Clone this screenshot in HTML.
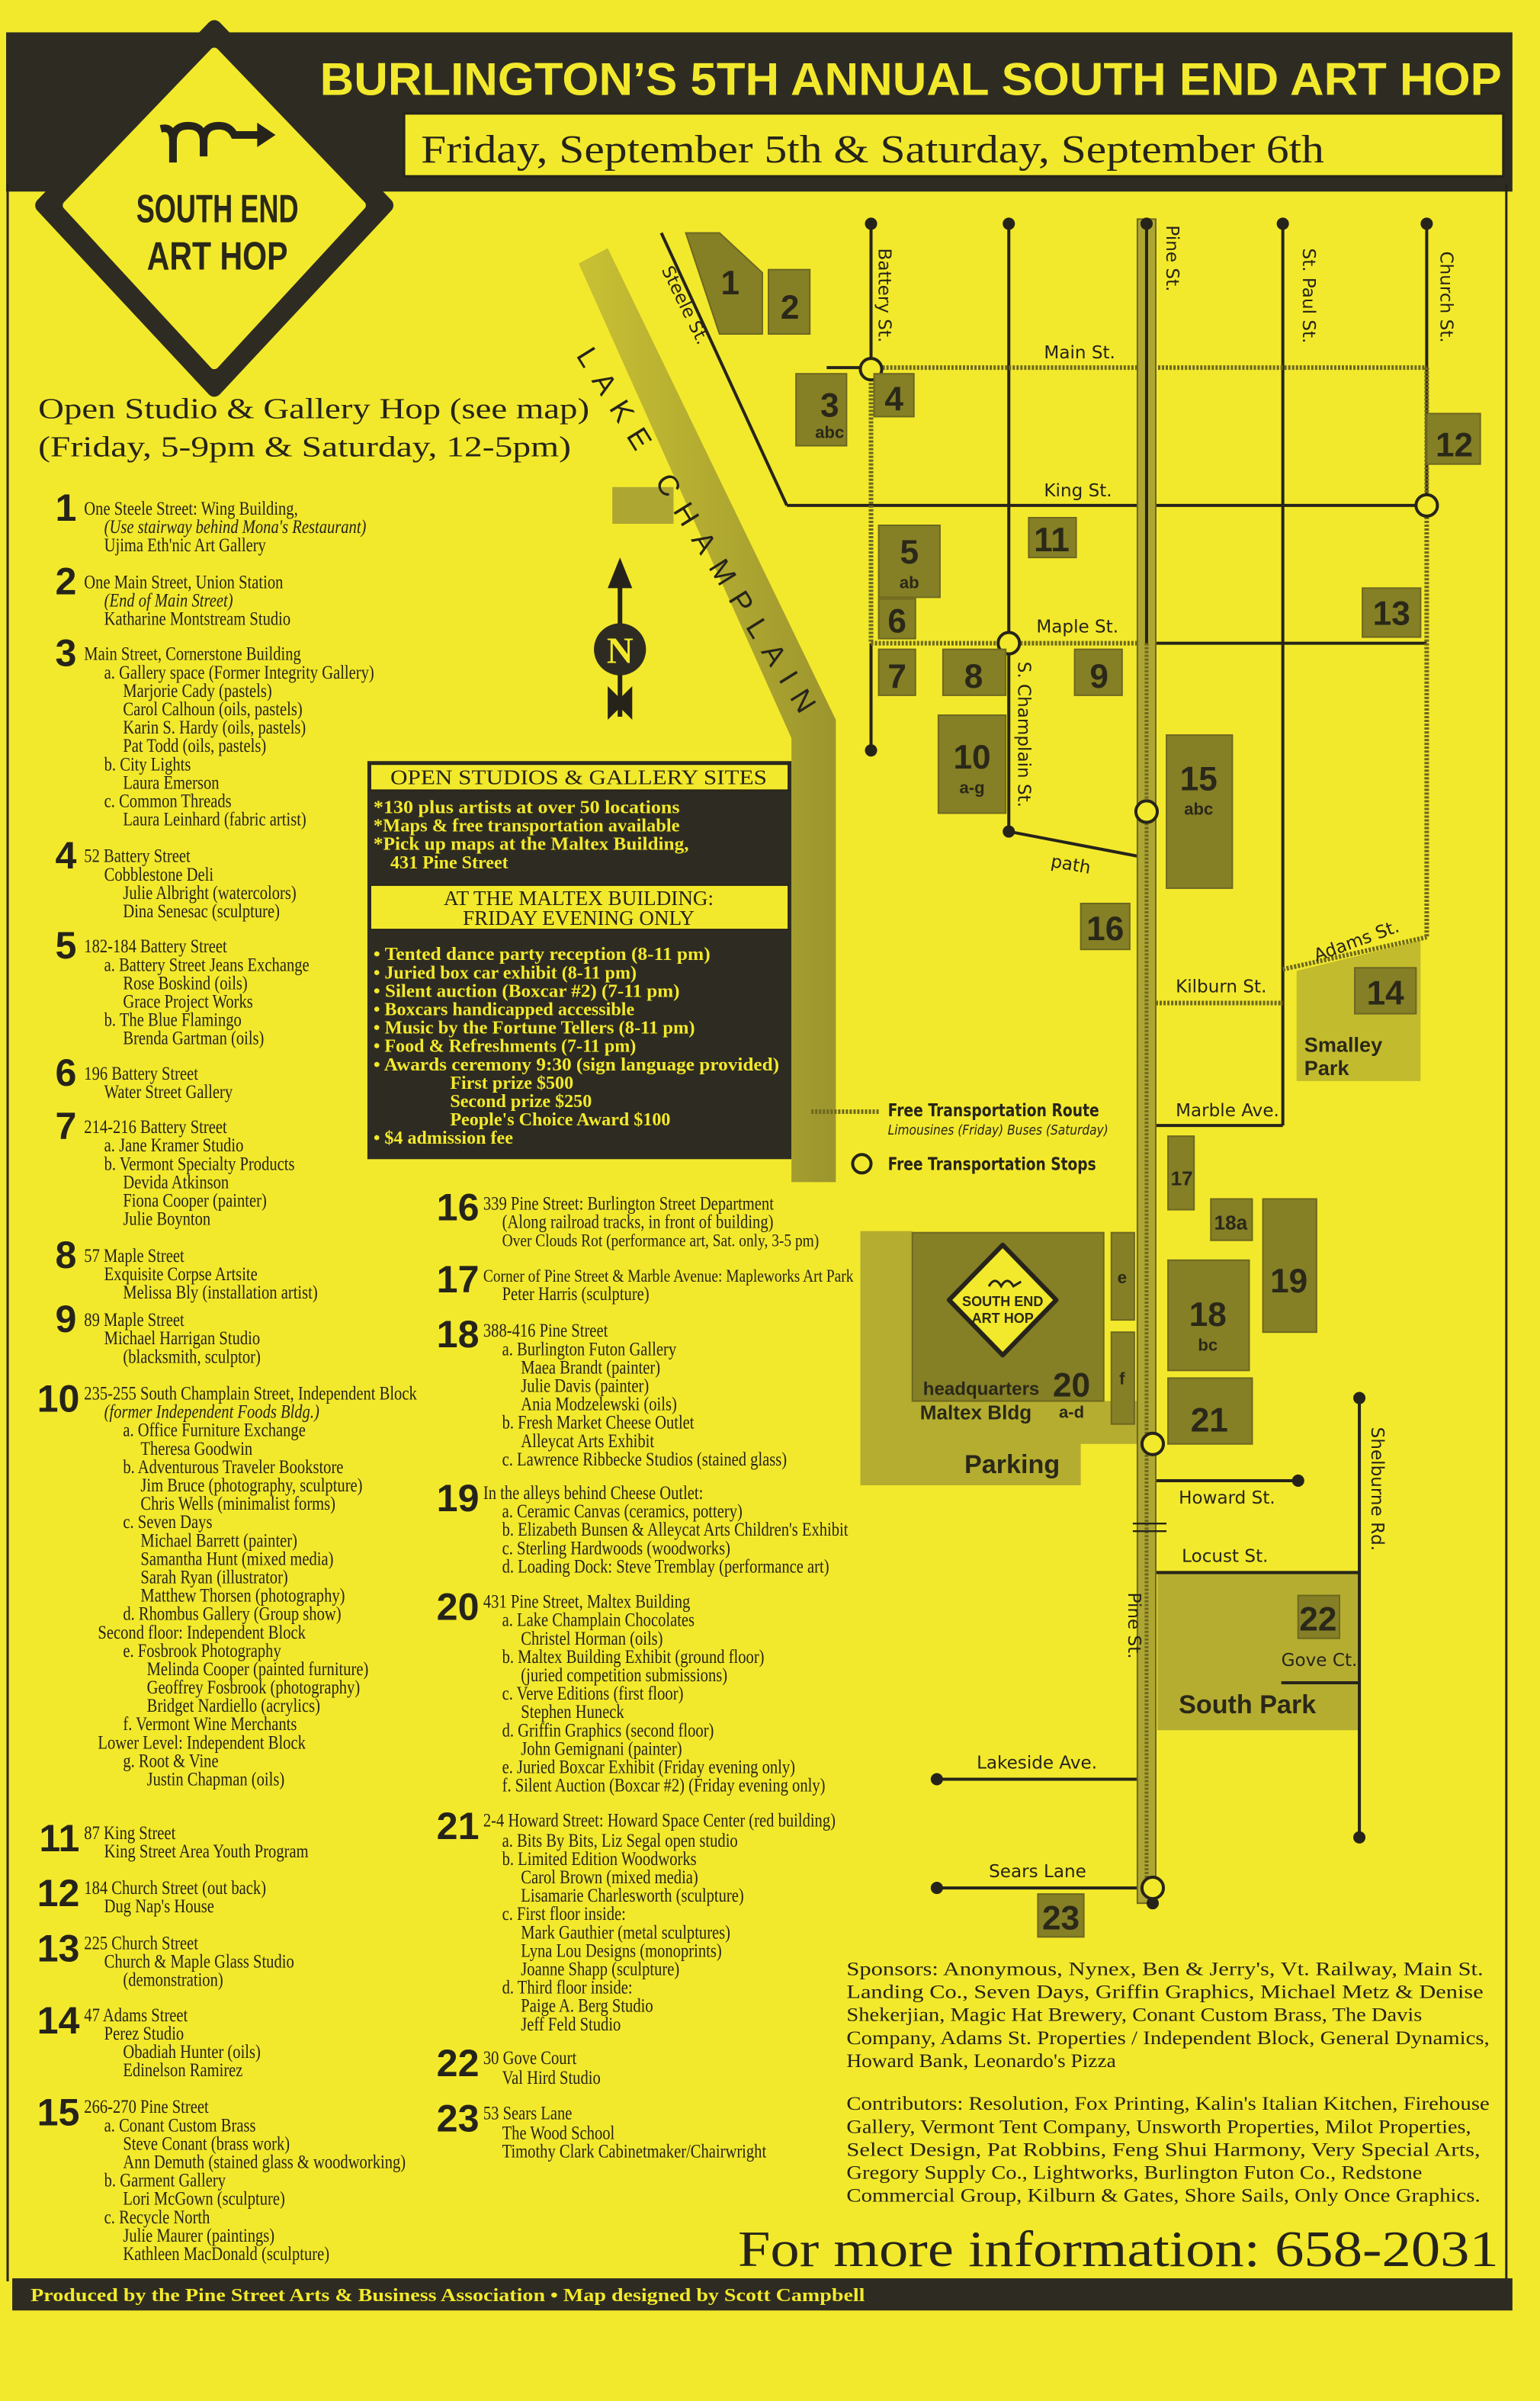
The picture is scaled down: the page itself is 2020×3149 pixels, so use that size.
<!DOCTYPE html>
<html><head><meta charset="utf-8"><style>
html,body{margin:0;padding:0;background:#f3e92c;}
svg{display:block}
.t{font-family:"Liberation Serif",serif;font-size:12.5px;fill:#26241a}
.i{font-style:italic}
.n{font-family:"Liberation Sans",sans-serif;font-weight:bold;font-size:25px;fill:#26241a;text-anchor:end}
.m{font-family:"Liberation Sans",sans-serif;font-weight:bold;fill:#2a2818}
.s{font-family:"DejaVu Sans","Liberation Sans",sans-serif;font-size:11.5px;fill:#26241a}
.y{font-family:"Liberation Serif",serif;font-size:12px;fill:#f3e92c;font-weight:bold}
.h{font-family:"Liberation Serif",serif;font-size:13.5px;fill:#26241a;text-anchor:middle}
.sp{font-family:"Liberation Serif",serif;font-size:12.5px;fill:#26241a}
</style></head><body>
<svg width="2020" height="3149" viewBox="0 0 1006 1568" xmlns="http://www.w3.org/2000/svg">
<defs><linearGradient id="lk" x1="0" y1="0" x2="1" y2="0"><stop offset="0" stop-color="#c9c133"/><stop offset="1" stop-color="#9c952e"/></linearGradient></defs>
<rect width="1006" height="1568" fill="#f3e92c"/>
<rect x="4" y="21" width="984" height="104" fill="#2e2c22"/>
<line x1="5" y1="120" x2="5" y2="1490" stroke="#26241a" stroke-width="1.5"/>
<line x1="984" y1="120" x2="984" y2="1490" stroke="#26241a" stroke-width="1.5"/>
<rect x="8" y="1488" width="980" height="21" fill="#2e2c22"/>
<text x="20" y="1503" class="y" font-size="13" textLength="545" lengthAdjust="spacingAndGlyphs">Produced by the Pine Street Arts &amp; Business Association • Map designed by Scott Campbell</text>
<text x="209" y="62" font-family="Liberation Sans,sans-serif" font-weight="bold" font-size="30" fill="#f3e92c" textLength="772" lengthAdjust="spacingAndGlyphs">BURLINGTON’S 5TH ANNUAL SOUTH END ART HOP</text>
<rect x="264" y="74" width="718" height="41" fill="#f3e92c" stroke="#26241a" stroke-width="1.5"/>
<text x="275" y="106" font-family="Liberation Serif,serif" font-size="26" fill="#26241a" textLength="590" lengthAdjust="spacingAndGlyphs">Friday, September 5th &amp; Saturday, September 6th</text>
<polygon points="140,18 252,134 140,254 28,134" fill="#2e2c22" stroke="#2e2c22" stroke-width="10" stroke-linejoin="round"/>
<polygon points="140,34 236,134 140,238 44,134" fill="#f3e92c" stroke="#f3e92c" stroke-width="6" stroke-linejoin="round"/>
<path d="M113,106 V92 Q113,82 123,82 Q133,82 133,92 V102 M133,92 Q133,82 143,82 Q150,82 153,88 L170,88" fill="none" stroke="#26241a" stroke-width="5"/>
<path d="M113,92 Q113,82 105,84" fill="none" stroke="#26241a" stroke-width="5"/>
<polygon points="168,80 180,88 168,96" fill="#26241a"/>
<text x="142" y="145" text-anchor="middle" class="m" font-size="26" textLength="106" lengthAdjust="spacingAndGlyphs">SOUTH END</text>
<text x="142" y="176" text-anchor="middle" class="m" font-size="26" textLength="92" lengthAdjust="spacingAndGlyphs">ART HOP</text>
<text x="25" y="273" font-family="Liberation Serif,serif" font-size="19" fill="#26241a" textLength="360" lengthAdjust="spacingAndGlyphs">Open Studio &amp; Gallery Hop (see map)</text>
<text x="25" y="298" font-family="Liberation Serif,serif" font-size="19" fill="#26241a" textLength="348" lengthAdjust="spacingAndGlyphs">(Friday, 5-9pm &amp; Saturday, 12-5pm)</text>
<g class="n">
<text x="50" y="340">1</text><text x="50" y="388">2</text><text x="50" y="435">3</text><text x="50" y="567">4</text>
<text x="50" y="626">5</text><text x="50" y="709">6</text><text x="50" y="744">7</text><text x="50" y="828">8</text>
<text x="50" y="870">9</text><text x="52" y="922">10</text><text x="52" y="1209">11</text><text x="52" y="1245">12</text>
<text x="52" y="1281">13</text><text x="52" y="1328">14</text><text x="52" y="1388">15</text>
<text x="313" y="797">16</text><text x="313" y="844">17</text><text x="313" y="880">18</text><text x="313" y="987">19</text>
<text x="313" y="1058">20</text><text x="313" y="1201">21</text><text x="313" y="1356">22</text><text x="313" y="1392">23</text>
</g>
<g transform="scale(0.82 1)" class="t">
<text x="67" y="336">One Steele Street: Wing Building,</text>
<text x="83" y="348" class="t i">(Use stairway behind Mona's Restaurant)</text>
<text x="83" y="360">Ujima Eth'nic Art Gallery</text>
<text x="67" y="384">One Main Street, Union Station</text>
<text x="83" y="396" class="t i">(End of Main Street)</text>
<text x="83" y="408">Katharine Montstream Studio</text>
<text x="67" y="431">Main Street, Cornerstone Building</text>
<text x="83" y="443">a. Gallery space (Former Integrity Gallery)</text>
<text x="98" y="455">Marjorie Cady (pastels)</text>
<text x="98" y="467">Carol Calhoun (oils, pastels)</text>
<text x="98" y="479">Karin S. Hardy (oils, pastels)</text>
<text x="98" y="491">Pat Todd (oils, pastels)</text>
<text x="83" y="503">b. City Lights</text>
<text x="98" y="515">Laura Emerson</text>
<text x="83" y="527">c. Common Threads</text>
<text x="98" y="539">Laura Leinhard (fabric artist)</text>
<text x="67" y="563">52 Battery Street</text>
<text x="83" y="575">Cobblestone Deli</text>
<text x="98" y="587">Julie Albright (watercolors)</text>
<text x="98" y="599">Dina Senesac (sculpture)</text>
<text x="67" y="622">182-184 Battery Street</text>
<text x="83" y="634">a. Battery Street Jeans Exchange</text>
<text x="98" y="646">Rose Boskind (oils)</text>
<text x="98" y="658">Grace Project Works</text>
<text x="83" y="670">b. The Blue Flamingo</text>
<text x="98" y="682">Brenda Gartman (oils)</text>
<text x="67" y="705">196 Battery Street</text>
<text x="83" y="717">Water Street Gallery</text>
<text x="67" y="740">214-216 Battery Street</text>
<text x="83" y="752">a. Jane Kramer Studio</text>
<text x="83" y="764">b. Vermont Specialty Products</text>
<text x="98" y="776">Devida Atkinson</text>
<text x="98" y="788">Fiona Cooper (painter)</text>
<text x="98" y="800">Julie Boynton</text>
<text x="67" y="824">57 Maple Street</text>
<text x="83" y="836">Exquisite Corpse Artsite</text>
<text x="98" y="848">Melissa Bly (installation artist)</text>
<text x="67" y="866">89 Maple Street</text>
<text x="83" y="878">Michael Harrigan Studio</text>
<text x="98" y="890">(blacksmith, sculptor)</text>
<text x="67" y="914">235-255 South Champlain Street, Independent Block</text>
<text x="83" y="926" class="t i">(former Independent Foods Bldg.)</text>
<text x="98" y="938">a. Office Furniture Exchange</text>
<text x="112" y="950">Theresa Goodwin</text>
<text x="98" y="962">b. Adventurous Traveler Bookstore</text>
<text x="112" y="974">Jim Bruce (photography, sculpture)</text>
<text x="112" y="986">Chris Wells (minimalist forms)</text>
<text x="98" y="998">c. Seven Days</text>
<text x="112" y="1010">Michael Barrett (painter)</text>
<text x="112" y="1022">Samantha Hunt (mixed media)</text>
<text x="112" y="1034">Sarah Ryan (illustrator)</text>
<text x="112" y="1046">Matthew Thorsen (photography)</text>
<text x="98" y="1058">d. Rhombus Gallery (Group show)</text>
<text x="78" y="1070">Second floor: Independent Block</text>
<text x="98" y="1082">e. Fosbrook Photography</text>
<text x="117" y="1094">Melinda Cooper (painted furniture)</text>
<text x="117" y="1106">Geoffrey Fosbrook (photography)</text>
<text x="117" y="1118">Bridget Nardiello (acrylics)</text>
<text x="98" y="1130">f. Vermont Wine Merchants</text>
<text x="78" y="1142">Lower Level: Independent Block</text>
<text x="98" y="1154">g. Root &amp; Vine</text>
<text x="117" y="1166">Justin Chapman (oils)</text>
<text x="67" y="1201">87 King Street</text>
<text x="83" y="1213">King Street Area Youth Program</text>
<text x="67" y="1237">184 Church Street (out back)</text>
<text x="83" y="1249">Dug Nap's House</text>
<text x="67" y="1273">225 Church Street</text>
<text x="83" y="1285">Church &amp; Maple Glass Studio</text>
<text x="98" y="1297">(demonstration)</text>
<text x="67" y="1320">47 Adams Street</text>
<text x="83" y="1332">Perez Studio</text>
<text x="98" y="1344">Obadiah Hunter (oils)</text>
<text x="98" y="1356">Edinelson Ramirez</text>
<text x="67" y="1380">266-270 Pine Street</text>
<text x="83" y="1392">a. Conant Custom Brass</text>
<text x="98" y="1404">Steve Conant (brass work)</text>
<text x="98" y="1416">Ann Demuth (stained glass &amp; woodworking)</text>
<text x="83" y="1428">b. Garment Gallery</text>
<text x="98" y="1440">Lori McGown (sculpture)</text>
<text x="83" y="1452">c. Recycle North</text>
<text x="98" y="1464">Julie Maurer (paintings)</text>
<text x="98" y="1476">Kathleen MacDonald (sculpture)</text>
<text x="385" y="790">339 Pine Street: Burlington Street Department</text>
<text x="400" y="802">(Along railroad tracks, in front of building)</text>
<text x="400" y="814" style="font-size:11.8px">Over Clouds Rot (performance art, Sat. only, 3-5 pm)</text>
<text x="385" y="837" style="font-size:11.8px">Corner of Pine Street &amp; Marble Avenue: Mapleworks Art Park</text>
<text x="400" y="849">Peter Harris (sculpture)</text>
<text x="385" y="873">388-416 Pine Street</text>
<text x="400" y="885">a. Burlington Futon Gallery</text>
<text x="415" y="897">Maea Brandt (painter)</text>
<text x="415" y="909">Julie Davis (painter)</text>
<text x="415" y="921">Ania Modzelewski (oils)</text>
<text x="400" y="933">b. Fresh Market Cheese Outlet</text>
<text x="415" y="945">Alleycat Arts Exhibit</text>
<text x="400" y="957">c. Lawrence Ribbecke Studios (stained glass)</text>
<text x="385" y="979">In the alleys behind Cheese Outlet:</text>
<text x="400" y="991">a. Ceramic Canvas (ceramics, pottery)</text>
<text x="400" y="1003">b. Elizabeth Bunsen &amp; Alleycat Arts Children's Exhibit</text>
<text x="400" y="1015">c. Sterling Hardwoods (woodworks)</text>
<text x="400" y="1027">d. Loading Dock: Steve Tremblay (performance art)</text>
<text x="385" y="1050">431 Pine Street, Maltex Building</text>
<text x="400" y="1062">a. Lake Champlain Chocolates</text>
<text x="415" y="1074">Christel Horman (oils)</text>
<text x="400" y="1086">b. Maltex Building Exhibit (ground floor)</text>
<text x="415" y="1098">(juried competition submissions)</text>
<text x="400" y="1110">c. Verve Editions (first floor)</text>
<text x="415" y="1122">Stephen Huneck</text>
<text x="400" y="1134">d. Griffin Graphics (second floor)</text>
<text x="415" y="1146">John Gemignani (painter)</text>
<text x="400" y="1158">e. Juried Boxcar Exhibit (Friday evening only)</text>
<text x="400" y="1170">f. Silent Auction (Boxcar #2) (Friday evening only)</text>
<text x="385" y="1193">2-4 Howard Street: Howard Space Center (red building)</text>
<text x="400" y="1206">a. Bits By Bits, Liz Segal open studio</text>
<text x="400" y="1218">b. Limited Edition Woodworks</text>
<text x="415" y="1230">Carol Brown (mixed media)</text>
<text x="415" y="1242">Lisamarie Charlesworth (sculpture)</text>
<text x="400" y="1254">c. First floor inside:</text>
<text x="415" y="1266">Mark Gauthier (metal sculptures)</text>
<text x="415" y="1278">Lyna Lou Designs (monoprints)</text>
<text x="415" y="1290">Joanne Shapp (sculpture)</text>
<text x="400" y="1302">d. Third floor inside:</text>
<text x="415" y="1314">Paige A. Berg Studio</text>
<text x="415" y="1326">Jeff Feld Studio</text>
<text x="385" y="1348">30 Gove Court</text>
<text x="400" y="1361">Val Hird Studio</text>
<text x="385" y="1384">53 Sears Lane</text>
<text x="400" y="1397">The Wood School</text>
<text x="400" y="1409">Timothy Clark Cabinetmaker/Chairwright</text>
</g>
<rect x="240" y="497" width="277" height="260" fill="#2e2c22"/>
<rect x="242" y="499" width="273" height="17" fill="#f3e92c" stroke="#26241a"/>
<text x="378" y="512" class="h" textLength="246" lengthAdjust="spacingAndGlyphs">OPEN STUDIOS &amp; GALLERY SITES</text>
<text x="244" y="531" class="y" textLength="200" lengthAdjust="spacingAndGlyphs">*130 plus artists at over 50 locations</text>
<text x="244" y="543" class="y" textLength="200" lengthAdjust="spacingAndGlyphs">*Maps &amp; free transportation available</text>
<text x="244" y="555" class="y" textLength="206" lengthAdjust="spacingAndGlyphs">*Pick up maps at the Maltex Building,</text>
<text x="255" y="567" class="y">431 Pine Street</text>
<rect x="242" y="578" width="273" height="29" fill="#f3e92c" stroke="#26241a"/>
<text x="378" y="591" class="h">AT THE MALTEX BUILDING:</text>
<text x="378" y="604" class="h">FRIDAY EVENING ONLY</text>
<g class="y">
<text x="244" y="627" textLength="220" lengthAdjust="spacingAndGlyphs">• Tented dance party reception (8-11 pm)</text>
<text x="244" y="639">• Juried box car exhibit (8-11 pm)</text>
<text x="244" y="651" textLength="200" lengthAdjust="spacingAndGlyphs">• Silent auction (Boxcar #2) (7-11 pm)</text>
<text x="244" y="663">• Boxcars handicapped accessible</text>
<text x="244" y="675" textLength="210" lengthAdjust="spacingAndGlyphs">• Music by the Fortune Tellers (8-11 pm)</text>
<text x="244" y="687">• Food &amp; Refreshments (7-11 pm)</text>
<text x="244" y="699" textLength="265" lengthAdjust="spacingAndGlyphs">• Awards ceremony 9:30 (sign language provided)</text>
<text x="294" y="711">First prize $500</text>
<text x="294" y="723">Second prize $250</text>
<text x="294" y="735">People's Choice Award $100</text>
<text x="244" y="747">• $4 admission fee</text>
</g>
<polygon points="378,172 397,162 546,470 546,772 517,772 517,482" fill="url(#lk)"/>
<rect x="400" y="318" width="40" height="24" fill="#aea632"/>
<text transform="translate(376,232) rotate(58)" font-family="Liberation Sans,sans-serif" font-size="19" fill="#26241a" textLength="280" letter-spacing="3">LAKE  CHAMPLAIN</text>
<line x1="405" y1="372" x2="405" y2="468" stroke="#26241a" stroke-width="3"/>
<polygon points="405,364 397,384 413,384" fill="#26241a"/>
<polygon points="397,448 405,456 413,448 413,470 405,462 397,470" fill="#26241a"/>
<circle cx="405" cy="424" r="17" fill="#2e2c22"/>
<text x="405" y="433" text-anchor="middle" font-family="Liberation Serif,serif" font-weight="bold" font-size="24" fill="#f3e92c">N</text>
<polygon points="847,634 928,614 928,706 847,706" fill="#c3bb2e"/>
<rect x="756" y="1028" width="132" height="102" fill="#b5ad30"/>
<path d="M562,804 H596 V915 H747 V943 H706 V970 H562 Z" fill="#b5ad30"/>
<g stroke="#26241a" stroke-width="2" fill="none">
<line x1="432" y1="152" x2="514" y2="330"/>
<line x1="514" y1="330" x2="932" y2="330"/>
<line x1="569" y1="146" x2="569" y2="240"/><line x1="569" y1="420" x2="569" y2="490"/>
<line x1="659" y1="146" x2="659" y2="543"/>
<line x1="838" y1="146" x2="838" y2="735"/>
<line x1="932" y1="146" x2="932" y2="330"/>
<line x1="540" y1="240" x2="569" y2="240"/>
<line x1="748" y1="420" x2="932" y2="420"/>
<line x1="659" y1="543" x2="748" y2="560"/>
<line x1="750" y1="735" x2="838" y2="735"/>
<line x1="753" y1="967" x2="848" y2="967"/>
<line x1="753" y1="1027" x2="888" y2="1027"/>
<line x1="888" y1="913" x2="888" y2="1200"/>
<line x1="837" y1="1099" x2="888" y2="1099"/>
<line x1="612" y1="1162" x2="753" y2="1162"/>
<line x1="612" y1="1233" x2="753" y2="1233"/>
</g>
<g stroke="#6d6820" stroke-width="3" stroke-dasharray="1.5 1" fill="none">
<line x1="569" y1="240" x2="932" y2="240"/>
<line x1="569" y1="240" x2="569" y2="420"/>
<line x1="569" y1="420" x2="748" y2="420"/>
<line x1="932" y1="240" x2="932" y2="612"/>
<line x1="838" y1="633" x2="932" y2="612"/>
<line x1="750" y1="655" x2="838" y2="655"/>
<line x1="530" y1="726" x2="575" y2="726"/>
</g>
<rect x="743" y="143" width="12" height="1100" fill="#aea632" stroke="#6d6820" stroke-width="1"/>
<line x1="749" y1="145" x2="749" y2="420" stroke="#26241a" stroke-width="2"/>
<line x1="749" y1="420" x2="749" y2="1240" stroke="#6d6820" stroke-width="2.5" stroke-dasharray="1.5 1"/>
<g stroke="#26241a" stroke-width="1.2"><line x1="740" y1="995" x2="762" y2="995"/><line x1="740" y1="1000" x2="762" y2="1000"/></g>
<g fill="#26241a">
<circle cx="569" cy="146" r="4"/><circle cx="659" cy="146" r="4"/><circle cx="749" cy="146" r="4"/><circle cx="838" cy="146" r="4"/><circle cx="932" cy="146" r="4"/>
<circle cx="569" cy="490" r="4"/><circle cx="659" cy="543" r="4"/><circle cx="848" cy="967" r="4"/><circle cx="888" cy="913" r="4"/><circle cx="888" cy="1200" r="4"/><circle cx="612" cy="1162" r="4"/><circle cx="612" cy="1233" r="4"/><circle cx="753" cy="1243" r="4"/>
</g>
<g fill="#f3e92c" stroke="#26241a" stroke-width="2">
<circle cx="569" cy="241" r="7"/><circle cx="932" cy="330" r="7"/><circle cx="659" cy="420" r="7"/><circle cx="749" cy="530" r="7"/><circle cx="753" cy="943" r="7"/><circle cx="753" cy="1233" r="7"/><circle cx="563" cy="760" r="6"/>
</g>
<g class="s">
<text x="682" y="234">Main St.</text><text x="682" y="324">King St.</text><text x="677" y="413">Maple St.</text>
<text x="686" y="566" transform="rotate(10 686 566)">path</text>
<text x="768" y="648">Kilburn St.</text><text x="768" y="729">Marble Ave.</text>
<text x="770" y="982">Howard St.</text><text x="772" y="1020">Locust St.</text><text x="837" y="1088">Gove Ct.</text>
<text x="638" y="1155">Lakeside Ave.</text><text x="646" y="1226">Sears Lane</text>
<text transform="translate(574,162) rotate(90)">Battery St.</text>
<text transform="translate(762,147) rotate(90)">Pine St.</text>
<text transform="translate(851,162) rotate(90)">St. Paul St.</text>
<text transform="translate(941,164) rotate(90)">Church St.</text>
<text transform="translate(665,432) rotate(90)">S. Champlain St.</text>
<text transform="translate(432,176) rotate(64)">Steele St.</text>
<text transform="translate(896,932) rotate(90)">Shelburne Rd.</text>
<text transform="translate(737,1040) rotate(90)">Pine St.</text>
<text transform="translate(860,628) rotate(-20)">Adams St.</text>
<text x="580" y="729" font-weight="bold" textLength="138" lengthAdjust="spacingAndGlyphs">Free Transportation Route</text>
<text x="580" y="741" font-size="9" font-style="italic" textLength="144" lengthAdjust="spacingAndGlyphs">Limousines (Friday) Buses (Saturday)</text>
<text x="580" y="764" font-weight="bold" textLength="136" lengthAdjust="spacingAndGlyphs">Free Transportation Stops</text>
</g>
<g fill="#857f26" stroke="#6d6820">
<polygon points="448,152 470,152 498,178 498,218 470,218"/>
<rect x="502" y="176" width="27" height="42"/>
<rect x="520" y="244" width="33" height="47"/><rect x="571" y="244" width="26" height="28"/>
<rect x="574" y="343" width="40" height="47"/><rect x="574" y="391" width="24" height="26"/>
<rect x="574" y="424" width="24" height="30"/><rect x="616" y="424" width="41" height="30"/>
<rect x="702" y="424" width="31" height="30"/><rect x="613" y="467" width="44" height="64"/>
<rect x="672" y="338" width="31" height="26"/><rect x="932" y="270" width="35" height="33"/>
<rect x="890" y="384" width="38" height="32"/><rect x="762" y="480" width="43" height="100"/>
<rect x="706" y="590" width="32" height="30"/><rect x="885" y="632" width="40" height="30"/>
<rect x="763" y="742" width="17" height="48"/><rect x="791" y="783" width="27" height="27"/>
<rect x="825" y="783" width="35" height="87"/><rect x="763" y="823" width="53" height="72"/>
<rect x="763" y="900" width="55" height="43"/><rect x="848" y="1042" width="27" height="28"/>
<rect x="678" y="1237" width="30" height="28"/>
<rect x="596" y="805" width="125" height="110"/>
<rect x="726" y="805" width="15" height="57"/><rect x="726" y="870" width="15" height="60"/>
</g>
<g class="m" fill="#2a2818" font-size="22" text-anchor="middle">
<text x="477" y="192">1</text><text x="516" y="208">2</text><text x="542" y="272">3</text><text x="584" y="268">4</text>
<text x="594" y="368">5</text><text x="586" y="413">6</text><text x="586" y="449">7</text><text x="636" y="449">8</text>
<text x="718" y="449">9</text><text x="635" y="502">10</text><text x="687" y="360">11</text><text x="950" y="298">12</text>
<text x="909" y="408">13</text><text x="783" y="516">15</text><text x="722" y="614">16</text><text x="905" y="656">14</text>
<text x="772" y="774" font-size="13">17</text><text x="804" y="803" font-size="13">18a</text><text x="842" y="844">19</text>
<text x="789" y="866">18</text><text x="790" y="935">21</text><text x="861" y="1065">22</text><text x="693" y="1260">23</text>
<text x="700" y="912">20</text>
</g>
<g class="m" fill="#2a2818" font-size="11" text-anchor="middle">
<text x="542" y="286">abc</text><text x="594" y="384">ab</text><text x="635" y="518">a-g</text><text x="783" y="532">abc</text>
<text x="789" y="882">bc</text><text x="700" y="926">a-d</text><text x="733" y="838">e</text><text x="733" y="904">f</text>
</g>
<text x="852" y="687" class="m" font-size="13.5" fill="#2a2818">Smalley</text>
<text x="852" y="702" class="m" font-size="13.5" fill="#2a2818">Park</text>
<text x="770" y="1119" class="m" font-size="17" fill="#e9e27a">South Park</text>
<text x="630" y="962" class="m" font-size="17" fill="#e9e27a">Parking</text>
<polygon points="655,813 690,849 655,885 620,849" fill="#f3e92c" stroke="#26241a" stroke-width="3" stroke-linejoin="round"/>
<text x="655" y="853" text-anchor="middle" class="m" font-size="9">SOUTH END</text>
<text x="655" y="864" text-anchor="middle" class="m" font-size="9">ART HOP</text>
<path d="M646,840 q4,-7 8,0 q4,-7 8,0 l5,-3" fill="none" stroke="#26241a" stroke-width="1.5"/>
<text x="603" y="911" class="m" font-size="12" fill="#e9e27a">headquarters</text>
<text x="601" y="927" class="m" font-size="13" fill="#e9e27a">Maltex Bldg</text>
<g class="sp">
<text x="553" y="1290" textLength="416" lengthAdjust="spacingAndGlyphs">Sponsors: Anonymous, Nynex, Ben &amp; Jerry's, Vt. Railway, Main St.</text>
<text x="553" y="1305" textLength="416" lengthAdjust="spacingAndGlyphs">Landing Co., Seven Days, Griffin Graphics, Michael Metz &amp; Denise</text>
<text x="553" y="1320" textLength="376" lengthAdjust="spacingAndGlyphs">Shekerjian, Magic Hat Brewery, Conant Custom Brass, The Davis</text>
<text x="553" y="1335" textLength="420" lengthAdjust="spacingAndGlyphs">Company,  Adams St. Properties / Independent Block, General Dynamics,</text>
<text x="553" y="1350" textLength="176" lengthAdjust="spacingAndGlyphs">Howard Bank, Leonardo's Pizza</text>
<text x="553" y="1378" textLength="420" lengthAdjust="spacingAndGlyphs">Contributors: Resolution, Fox Printing, Kalin's Italian Kitchen, Firehouse</text>
<text x="553" y="1393" textLength="408" lengthAdjust="spacingAndGlyphs">Gallery, Vermont Tent Company, Unsworth Properties, Milot Properties,</text>
<text x="553" y="1408" textLength="414" lengthAdjust="spacingAndGlyphs">Select Design, Pat Robbins, Feng Shui Harmony, Very Special Arts,</text>
<text x="553" y="1423" textLength="376" lengthAdjust="spacingAndGlyphs">Gregory Supply Co., Lightworks, Burlington Futon Co., Redstone</text>
<text x="553" y="1438" textLength="414" lengthAdjust="spacingAndGlyphs">Commercial Group, Kilburn &amp; Gates, Shore Sails, Only Once Graphics.</text>
</g>
<text x="482" y="1480" font-family="Liberation Serif,serif" font-size="33" fill="#26241a" textLength="497" lengthAdjust="spacingAndGlyphs">For more information: 658-2031</text>
</svg>
</body></html>
